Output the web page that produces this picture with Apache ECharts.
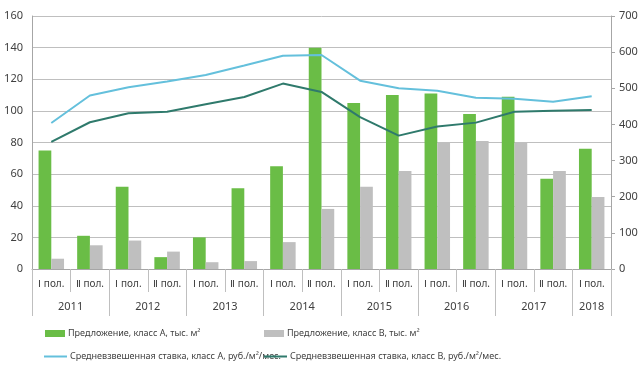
<!DOCTYPE html>
<html><head><meta charset="utf-8">
<script src="https://cdn.jsdelivr.net/npm/echarts@6/dist/echarts.min.js"></script>
<style>html,body{margin:0;padding:0;background:#fff}#c{width:642px;height:368px}</style>
</head><body><div id="c"></div>
<script>
// ---- data ----
var halfLabels = ['Ⅰ пол.','Ⅱ пол.','Ⅰ пол.','Ⅱ пол.','Ⅰ пол.','Ⅱ пол.','Ⅰ пол.','Ⅱ пол.','Ⅰ пол.','Ⅱ пол.','Ⅰ пол.','Ⅱ пол.','Ⅰ пол.','Ⅱ пол.','Ⅰ пол.'];
var years = ['2011','2012','2013','2014','2015','2016','2017','2018'];
var halvesPerYear = [2,2,2,2,2,2,2,1];
var supplyA = [75,21,52,7.5,20,51,65,140,105,110,111,98,109,57,76];
var supplyB = [6.5,15,18,11,4.3,5,17,38,52,62,80,81,80,62,45.5];
var rateA = [404,480,503,519,537,563,590,592,521,500,493,474,471,463,478];
var rateB = [352,406,431,435,456,476,513,490,420,369,394,405,435,438,440];
var names = ['Предложение, класс А, тыс. м²','Предложение, класс В, тыс. м²','Средневзвешенная ставка, класс А, руб./м²/мес.','Средневзвешенная ставка, класс В, руб./м²/мес.'];
var leftTicks = {min:0,max:160,interval:20};
var rightTicks = {min:0,max:700,interval:100};

// derived year boundary / centre positions
var bounds=[0], centres=[], acc=0;
halvesPerYear.forEach(function(n){centres.push(acc+n/2); acc+=n; bounds.push(acc);});

var FONT = 'Noto Sans';
var TXT = '#404040';
var chart = echarts.init(document.getElementById('c'));
function lg(i,left,top,kind){
  var isRect = kind==='rect';
  return {data:[names[i]],left:left,top:top,itemWidth:isRect?20:23,itemHeight:isRect?7:2,
    icon:'rect',itemGap:0,padding:0,selectedMode:false,
    textStyle:{fontFamily:FONT,fontSize:9,color:TXT,padding:[0,0,0,-2]}};
}
chart.setOption({
  animation:false,
  textStyle:{fontFamily:FONT},
  grid:{left:32,right:31,top:16,bottom:99,containLabel:false},
  legend:[lg(0,45,329,'rect'),lg(1,264,329,'rect'),lg(2,44,352,'line'),lg(3,264,352,'line')],
  xAxis:[{
    type:'category',data:halfLabels,boundaryGap:true,position:'bottom',
    axisLine:{lineStyle:{color:'#a6a6a6'}},
    axisTick:{show:true,interval:0,length:23,lineStyle:{color:'#bfbfbf'}},
    axisLabel:{interval:0,margin:10,fontSize:10,color:TXT,fontFamily:FONT}
  },{
    type:'value',min:0,max:halvesPerYear.reduce(function(a,b){return a+b;},0),position:'bottom',
    axisLine:{show:false},splitLine:{show:false},
    axisTick:{show:true,customValues:bounds,length:47,lineStyle:{color:'#bfbfbf'}},
    axisLabel:{customValues:centres,margin:32,fontSize:11,color:TXT,fontFamily:FONT,
      formatter:function(v){var i=centres.indexOf(v);return i>=0?years[i]:'';}}
  }],
  yAxis:[{
    type:'value',min:leftTicks.min,max:leftTicks.max,interval:leftTicks.interval,
    axisLine:{show:true,lineStyle:{color:'#a6a6a6'}},axisTick:{show:false},
    splitLine:{lineStyle:{color:'#bfbfbf'}},
    axisLabel:{margin:9,fontSize:11,color:TXT,fontFamily:FONT}
  },{
    type:'value',min:rightTicks.min,max:rightTicks.max,interval:rightTicks.interval,position:'right',
    axisLine:{show:true,lineStyle:{color:'#a6a6a6'}},axisTick:{show:true,length:4,lineStyle:{color:'#a6a6a6'}},
    splitLine:{show:false},
    axisLabel:{margin:8,fontSize:11,color:TXT,fontFamily:FONT}
  }],
  series:[
    {name:names[0],type:'bar',data:supplyA,barGap:'0%',barCategoryGap:'34%',itemStyle:{color:'#6abd46'}},
    {name:names[1],type:'bar',data:supplyB,itemStyle:{color:'#bfbfbf'}},
    {name:names[2],type:'line',yAxisIndex:1,data:rateA,symbol:'none',lineStyle:{width:2,color:'#64c0dc'},itemStyle:{color:'#64c0dc'}},
    {name:names[3],type:'line',yAxisIndex:1,data:rateB,symbol:'none',lineStyle:{width:2,color:'#2f7a6c'},itemStyle:{color:'#2f7a6c'}}
  ]
});
</script></body></html>
